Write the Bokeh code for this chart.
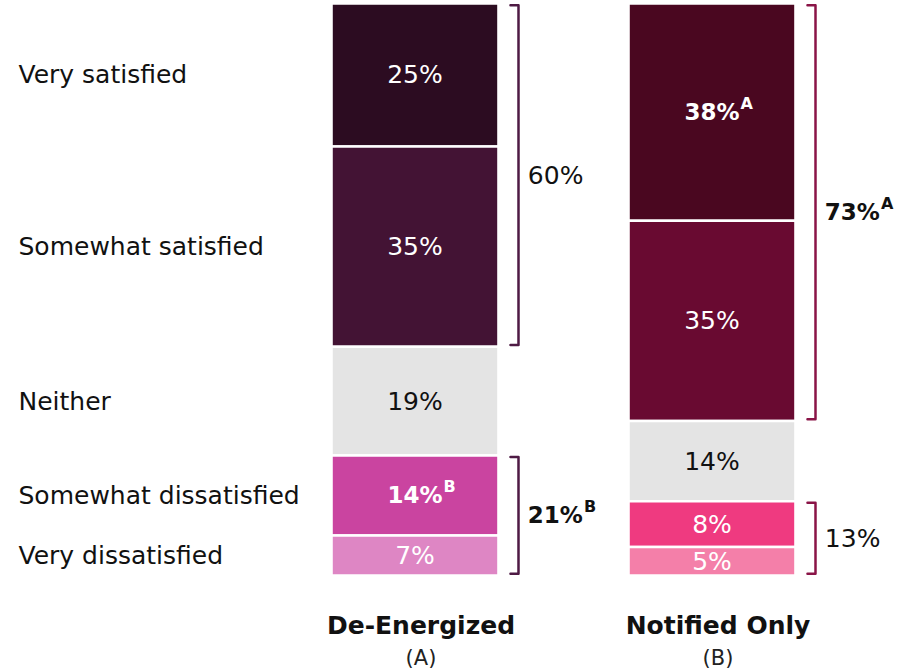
from bokeh.plotting import figure
from bokeh.models import Range1d, ColumnDataSource
from bokeh.core.properties import value
from bokeh.embed import file_html
from bokeh.resources import INLINE

# ---------------- data ----------------
categories = ["Very satisfied", "Somewhat satisfied", "Neither",
              "Somewhat dissatisfied", "Very dissatisfied"]
groups = ["De-Energized", "Notified Only"]
group_letters = ["(A)", "(B)"]

de_energized = [25, 35, 19, 14, 7]
notified_only = [38, 35, 14, 8, 5]

de_energized_labels = ["25%", "35%", "19%", "14%", "7%"]
notified_only_labels = ["38%", "35%", "14%", "8%", "5%"]
de_energized_sup = ["", "", "", "B", ""]
notified_only_sup = ["A", "", "", "", ""]
de_energized_bold = [False, False, False, True, False]
notified_only_bold = [True, False, False, False, False]

# net brackets: (first category index, last category index, label, superscript, bold)
de_energized_nets = [(0, 1, "60%", "", False), (3, 4, "21%", "B", True)]
notified_only_nets = [(0, 1, "73%", "A", True), (3, 4, "13%", "", False)]

de_energized_colors = ["#2c0c21", "#431334", "#e4e4e4", "#ca44a0", "#de86c4"]
notified_only_colors = ["#4a0720", "#690a31", "#e4e4e4", "#ef3a80", "#f47fa9"]
label_colors = ["white", "white", "#111111", "white", "white"]
bracket_colors = ["#4e1a44", "#8a1447"]

FONT = "DejaVu Sans"
BOLD_SIZE = 23
BOLD_W = 2.394 * BOLD_SIZE  # approx width of a bold "NN%" string in px

# ---------------- figure ----------------
p = figure(width=897, height=669, output_backend="svg", toolbar_location=None,
           x_range=Range1d(-1.3956, 1.6246), y_range=Range1d(-16.43, 100.52),
           min_border=0)
p.axis.visible = False
p.grid.visible = False
p.outline_line_color = None
p.background_fill_color = "white"
p.border_fill_color = "white"

bar_w = 0.562
all_vals = [de_energized, notified_only]
all_labels = [de_energized_labels, notified_only_labels]
all_sups = [de_energized_sup, notified_only_sup]
all_bold = [de_energized_bold, notified_only_bold]
all_colors = [de_energized_colors, notified_only_colors]
all_nets = [de_energized_nets, notified_only_nets]


def sup_text(x, y, s, color, x_off):
    p.text(x=[x], y=[y], text=[s], text_align="left", text_baseline="middle",
           text_color=color, text_font=value(FONT), text_font_size="16px",
           text_font_style="bold", x_offset=x_off, y_offset=-9)


for gi, vals in enumerate(all_vals):
    tops, bottoms = [], []
    acc = 100.0
    for v in vals:
        tops.append(acc)
        bottoms.append(acc - v)
        acc -= v
    mids = [(t + b) / 2 for t, b in zip(tops, bottoms)]
    src = ColumnDataSource(dict(x=[gi] * len(vals), top=tops, bottom=bottoms,
                                color=all_colors[gi]))
    p.vbar(x="x", top="top", bottom="bottom", width=bar_w, source=src,
           fill_color="color", line_color="white", line_width=2.5)

    # value labels
    for i in range(len(vals)):
        bold = all_bold[gi][i]
        p.text(x=[gi], y=[mids[i]], text=[all_labels[gi][i]],
               text_align="center", text_baseline="middle",
               text_color=label_colors[i],
               text_font=value(FONT),
               text_font_size=f"{BOLD_SIZE}px" if bold else "25px",
               text_font_style="bold" if bold else "normal")
        if all_sups[gi][i]:
            sup_text(gi, mids[i], all_sups[gi][i], label_colors[i], BOLD_W / 2 + 1)

    # category labels from the first bar
    if gi == 0:
        p.text(x=[-1.335] * len(categories), y=mids, text=categories,
               text_align="left", text_baseline="middle", text_color="#111111",
               text_font=value(FONT), text_font_size="25px")

    # brackets
    bx = gi + 0.3485
    cap = 0.027
    for (a, b, lab, sup, bold) in all_nets[gi]:
        yt = tops[a] - 0.3
        yb = bottoms[b] + 0.3
        p.line(x=[bx - cap, bx, bx, bx - cap], y=[yt, yt, yb, yb],
               line_color=bracket_colors[gi], line_width=2.5,
               line_join="round", line_cap="round")
        p.text(x=[gi + 0.38], y=[(yt + yb) / 2], text=[lab],
               text_align="left", text_baseline="middle", text_color="#111111",
               text_font=value(FONT),
               text_font_size=f"{BOLD_SIZE}px" if bold else "25px",
               text_font_style="bold" if bold else "normal")
        if sup:
            sup_text(gi + 0.38, (yt + yb) / 2, sup, "#111111", BOLD_W + 1)

# group titles
p.text(x=[0, 1], y=[-8.74, -8.74], text=groups, text_align="center",
       text_baseline="middle", text_color="#111111", text_font=value(FONT),
       text_font_size="25px", text_font_style="bold", x_offset=6)
p.text(x=[0, 1], y=[-14.34, -14.34], text=group_letters, text_align="center",
       text_baseline="middle", text_color="#222222", text_font=value(FONT),
       text_font_size="21px", x_offset=6)

open("out.html", "w").write(file_html(p, INLINE))
